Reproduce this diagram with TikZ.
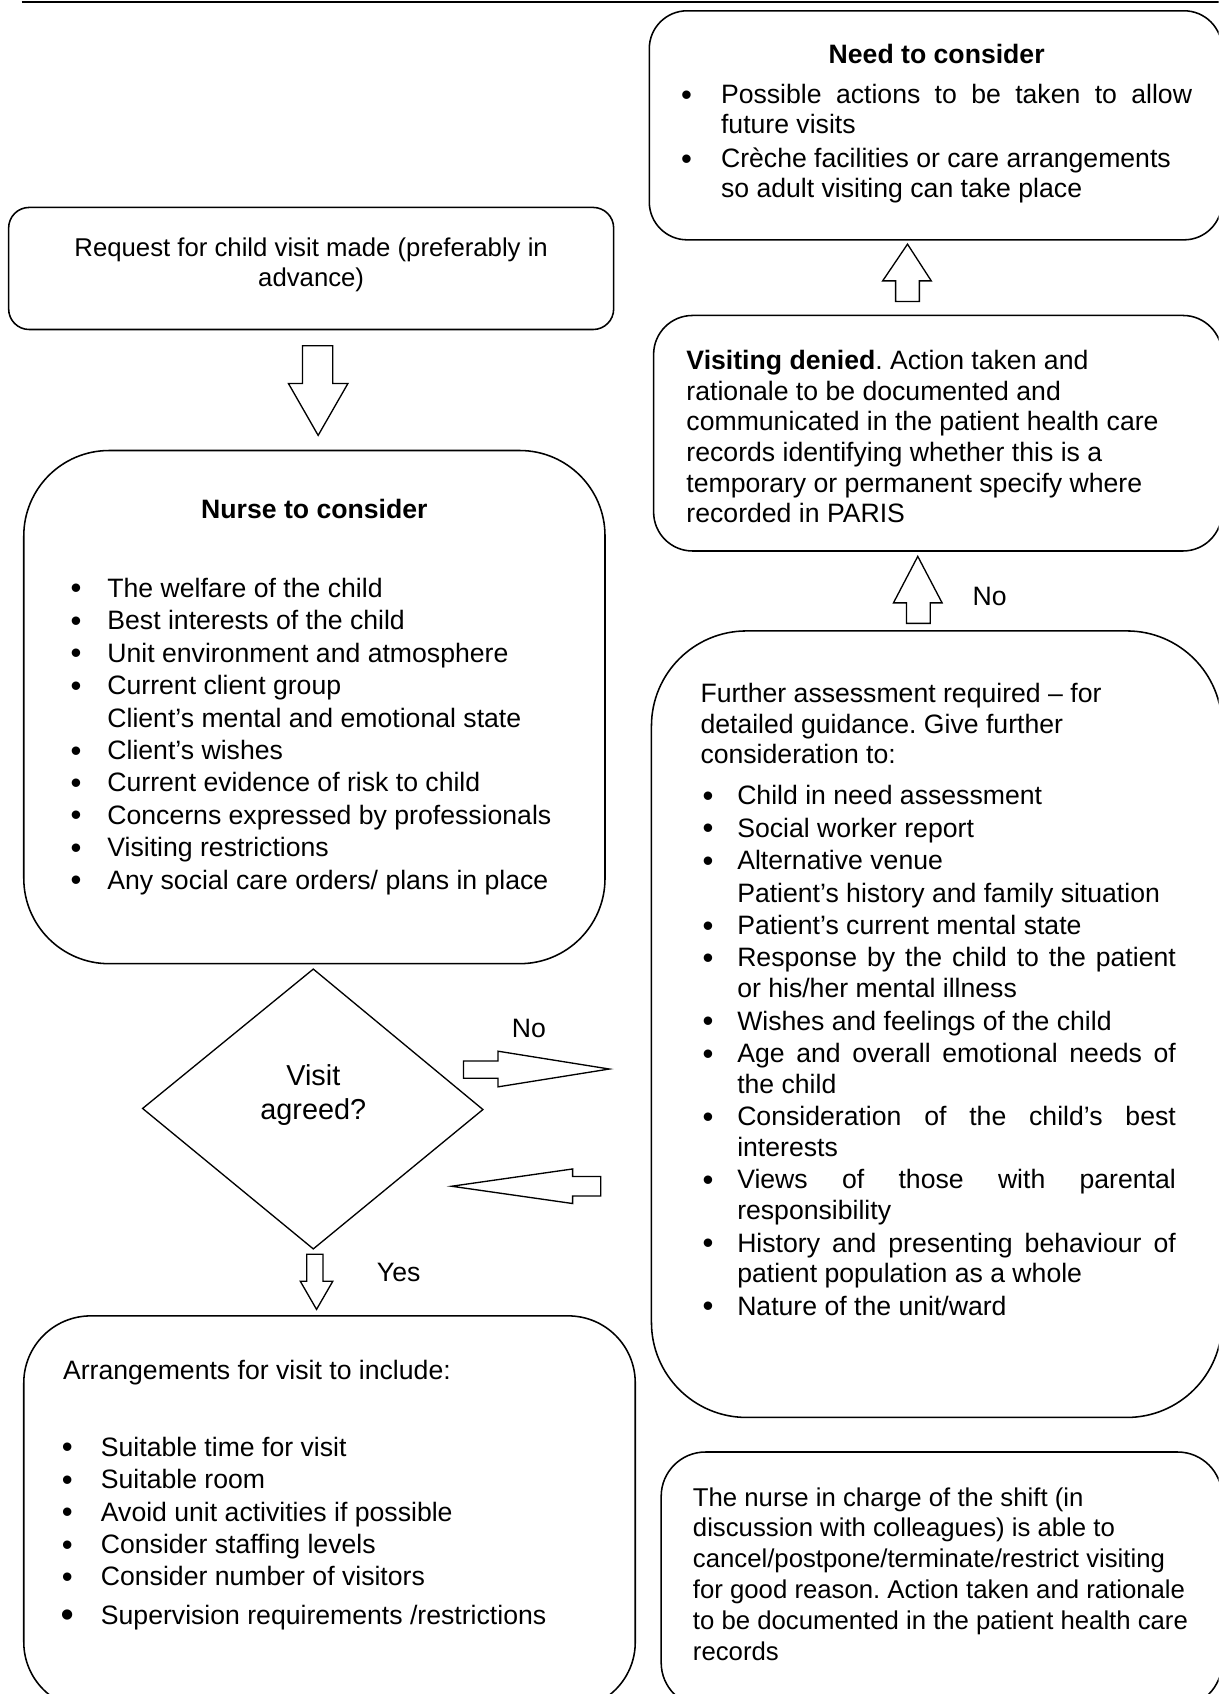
\documentclass[tikz,border=0pt]{standalone}
\usepackage{fontspec}
\setmainfont{Liberation Sans}
\frenchspacing
\newlength\pxu \setlength\pxu{0.487pt}
\newcommand\bul{\raisebox{-0.7pt}{\fontsize{14}{14}\selectfont\textbullet}}
\newcommand\lC[1]{\hbox to 0pt{\hss#1\hss}}
\newcommand\lR[1]{\hbox{#1}}
\newcommand\lJ[2]{\hbox{\makebox[#1\pxu][s]{#2}}}
\newcommand\lB[2]{\hbox{\llap{\bul\hskip#1\pxu}#2}}
\newcommand\lBJ[3]{\hbox{\llap{\bul\hskip#1\pxu}\makebox[#2\pxu][s]{#3}}}
\newcommand\gp[1]{\vskip#1\pxu}
\newcommand\tb[2]{\vtop{\baselineskip=#1\pxu\lineskiplimit=-100pt\lineskip=0pt #2}}
\begin{document}
\begin{tikzpicture}[x=0.487pt,y=-0.487pt,
  rbox/.style={draw, line width=0.7pt, inner sep=0pt},
  txt/.style={inner sep=0pt, anchor=base west, font=\fontsize{12}{13.64}\selectfont},
  ctxt/.style={inner sep=0pt, anchor=base, font=\fontsize{12}{13.64}\selectfont},
  barrow/.style={draw, line width=0.6pt, line join=miter, fill=white}]
\useasboundingbox (0,0) rectangle (1128,1568);
\begin{scope}
\clip (0,0) rectangle (1128,1568);
% top rule
\draw[line width=1pt] (20,1.5) -- (1128,1.5);
% boxes
\node[rbox, rounded corners=19\pxu, minimum width=560\pxu, minimum height=113\pxu] (req) at (288,248.5) {};
\node[rbox, rounded corners=35\pxu, minimum width=530\pxu, minimum height=212\pxu] (need) at (866,116) {};
\node[rbox, rounded corners=36\pxu, minimum width=526\pxu, minimum height=218\pxu] (denied) at (868,401) {};
\node[rbox, rounded corners=79\pxu, minimum width=538\pxu, minimum height=475\pxu] (nurse) at (291,654.5) {};
\node[rbox, rounded corners=88\pxu, minimum width=528\pxu, minimum height=728\pxu] (further) at (867,948) {};
\node[rbox, rounded corners=62\pxu, minimum width=566\pxu, minimum height=364\pxu] (arr) at (305,1400) {};
\node[rbox, rounded corners=41\pxu, minimum width=519\pxu, minimum height=236\pxu] (nic) at (871.5,1462) {};
% diamond
\coordinate (dT) at (290,897);
\coordinate (dR) at (447,1027);
\coordinate (dB) at (290,1156);
\coordinate (dL) at (132,1026);
\draw[line width=0.6pt] (dT) -- (dR) -- (dB) -- (dL) -- cycle;
% block arrows
\draw[barrow] (280,320) -- (308,320) -- (308,355) -- (322,355) -- (294.5,403) -- (267,355) -- (280,355) -- cycle;
\draw[barrow] (829,279) -- (851,279) -- (851,260) -- (862,260) -- (840,226) -- (817,260) -- (829,260) -- cycle;
\draw[barrow] (839,577) -- (861,577) -- (861,558) -- (872,558) -- (849.5,515) -- (827,558) -- (839,558) -- cycle;
\draw[barrow] (429,982) -- (461,982) -- (461,973) -- (564,989.5) -- (461,1006) -- (461,998) -- (429,998) -- cycle;
\draw[barrow] (556,1089) -- (530,1089) -- (530,1082) -- (418,1098) -- (530,1114) -- (530,1107) -- (556,1107) -- cycle;
\draw[barrow] (284,1161) -- (299,1161) -- (299,1186) -- (308,1186) -- (293,1212) -- (278,1186) -- (284,1186) -- cycle;
% labels
\node[ctxt] (lNo1) at (916,560) {\lC{No}};
\node[ctxt] (lNo2) at (489.5,960) {\lC{No}};
\node[ctxt] (lYes) at (369,1186) {\lC{Yes}};
% diamond text
\node[ctxt, font=\fontsize{13}{15}\selectfont] (dtext) at (290,1005) {\tb{31}{\lC{Visit}\lC{agreed?}}};
% request text
\node[ctxt, font=\fontsize{11.6}{13.3}\selectfont] (reqT) at (288,237) {\tb{28}{\lC{Request for child visit made (preferably in}\lC{advance)}}};
% need to consider
\node[ctxt] (needH) at (867,59) {\lC{\textbf{Need to consider}}};
\node[txt] (needT) at (667,96) {\tb{28}{%
  \lBJ{27}{436}{Possible actions to be taken to allow}%
  \lR{future visits}\gp{3}%
  \lB{27}{Crèche facilities or care arrangements}%
  \lR{so adult visiting can take place}}};
% visiting denied
\node[txt] (deniedT) at (635,342) {\tb{28.4}{%
  \lR{\textbf{Visiting denied}. Action taken and}%
  \lR{rationale to be documented and}%
  \lR{communicated in the patient health care}%
  \lR{records identifying whether this is a}%
  \lR{temporary or permanent specify where}%
  \lR{recorded in PARIS}}};
% nurse to consider
\node[ctxt] (nurseH) at (291,480) {\lC{\textbf{Nurse to consider}}};
\node[txt] (nurseT) at (99,553) {\tb{30}{%
  \lB{24}{The welfare of the child}%
  \lB{24}{Best interests of the child}%
  \lB{24}{Unit environment and atmosphere}%
  \lB{24}{Current client group}%
  \lR{Client’s mental and emotional state}%
  \lB{24}{Client’s wishes}%
  \lB{24}{Current evidence of risk to child}%
  \lB{24}{Concerns expressed by professionals}%
  \lB{24}{Visiting restrictions}%
  \lB{24}{Any social care orders/ plans in place}}};
% further assessment
\node[txt] (furtherI) at (648,650) {\tb{28.5}{%
  \lR{Further assessment required – for}%
  \lR{detailed guidance. Give further}%
  \lR{consideration to:}}};
\node[txt] (furtherT) at (682,745) {\tb{28.5}{%
  \lB{22}{Child in need assessment}\gp{1.5}%
  \lB{22}{Social worker report}\gp{1.5}%
  \lB{22}{Alternative venue}\gp{1.5}%
  \lR{Patient’s history and family situation}\gp{1.5}%
  \lB{22}{Patient’s current mental state}\gp{1.5}%
  \lBJ{22}{406}{Response by the child to the patient}%
  \lR{or his/her mental illness}\gp{1.5}%
  \lB{22}{Wishes and feelings of the child}\gp{1.5}%
  \lBJ{22}{406}{Age and overall emotional needs of}%
  \lR{the child}\gp{1.5}%
  \lBJ{22}{406}{Consideration of the child’s best}%
  \lR{interests}\gp{1.5}%
  \lBJ{22}{406}{Views of those with parental}%
  \lR{responsibility}\gp{1.5}%
  \lBJ{22}{406}{History and presenting behaviour of}%
  \lR{patient population as a whole}\gp{1.5}%
  \lB{22}{Nature of the unit/ward}}};
% arrangements
\node[txt] (arrI) at (58,1277) {\lR{Arrangements for visit to include:}};
\node[txt] (arrT) at (93,1348) {\tb{30}{%
  \lB{26}{Suitable time for visit}%
  \lB{26}{Suitable room}%
  \lB{26}{Avoid unit activities if possible}%
  \lB{26}{Consider staffing levels}%
  \lB{26}{Consider number of visitors}\gp{6}%
  \hbox{\llap{\raisebox{-1.2pt}{\fontsize{17}{17}\selectfont\textbullet}\hskip25\pxu}Supervision requirements /restrictions}}};
% nurse in charge
\node[txt, font=\fontsize{11.6}{13.3}\selectfont] (nicT) at (641,1394) {\tb{28.6}{%
  \lR{The nurse in charge of the shift (in}%
  \lR{discussion with colleagues) is able to}%
  \lR{cancel/postpone/terminate/restrict visiting}%
  \lR{for good reason. Action taken and rationale}%
  \lR{to be documented in the patient health care}%
  \lR{records}}};
\end{scope}
\end{tikzpicture}
\end{document}
